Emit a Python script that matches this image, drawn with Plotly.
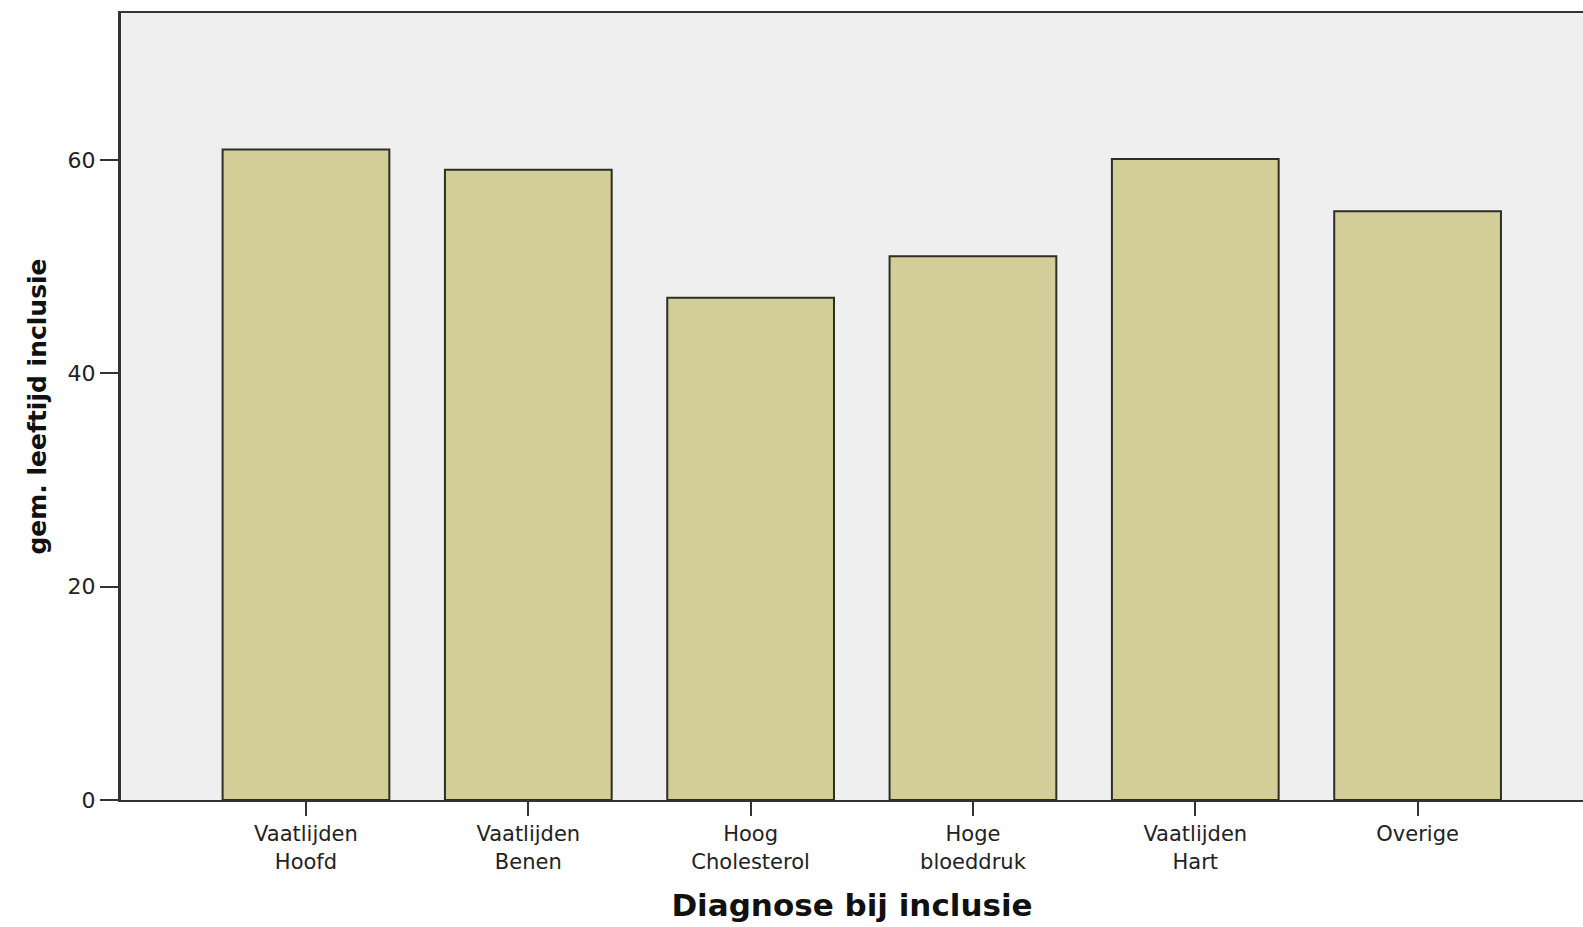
import plotly.graph_objects as go

categories = ["Vaatlijden<br>Hoofd", "Vaatlijden<br>Benen", "Hoog<br>Cholesterol",
              "Hoge<br>bloeddruk", "Vaatlijden<br>Hart", "Overige"]
mean_age = [61.0, 59.1, 47.1, 51.0, 60.1, 55.2]
y_ticks = [0, 20, 40, 60]

x_title = "Diagnose bij inclusie"
y_title = "gem. leeftijd inclusie"

fig = go.Figure()
fig.add_trace(go.Bar(
    x=list(range(len(categories))),
    y=mean_age,
    width=0.75,
    marker=dict(color="#d3ce97", line=dict(color="#2e2e26", width=2)),
    hoverinfo="skip",
))

fig.update_layout(
    width=1583, height=927,
    margin=dict(l=121, r=0, t=13, b=127),
    paper_bgcolor="white",
    plot_bgcolor="#efefef",
    showlegend=False,
    font=dict(family="DejaVu Sans", color="#222222"),
    xaxis=dict(
        range=[-0.832, 5.744],
        tickmode="array",
        tickvals=list(range(len(categories))),
        ticktext=categories,
        ticks="outside", ticklen=14, tickwidth=2, tickcolor="#333333",
        showline=True, linecolor="#333333", linewidth=2, mirror=True,
        showgrid=False, zeroline=False,
        tickfont=dict(size=21, family="DejaVu Sans", color="#222222"),
        title=dict(text=x_title, font=dict(size=31, family="DejaVu Sans", weight="bold", color="#111111"),
                   standoff=22),
    ),
    yaxis=dict(
        range=[0, 73.8],
        tickmode="array",
        tickvals=y_ticks,
        ticks="outside", ticklen=18, tickwidth=2, tickcolor="#333333",
        showline=True, linecolor="#333333", linewidth=3,
        showgrid=False, zeroline=False,
        tickfont=dict(size=22, family="DejaVu Sans", color="#222222"),
        title=dict(text=y_title, font=dict(size=25, family="DejaVu Sans", weight="bold", color="#111111"),
                   standoff=14),
    ),
)

fig.write_html("out.html", config={"displayModeBar": False},
               post_script="document.body.style.margin='0';document.body.style.overflow='hidden';")
